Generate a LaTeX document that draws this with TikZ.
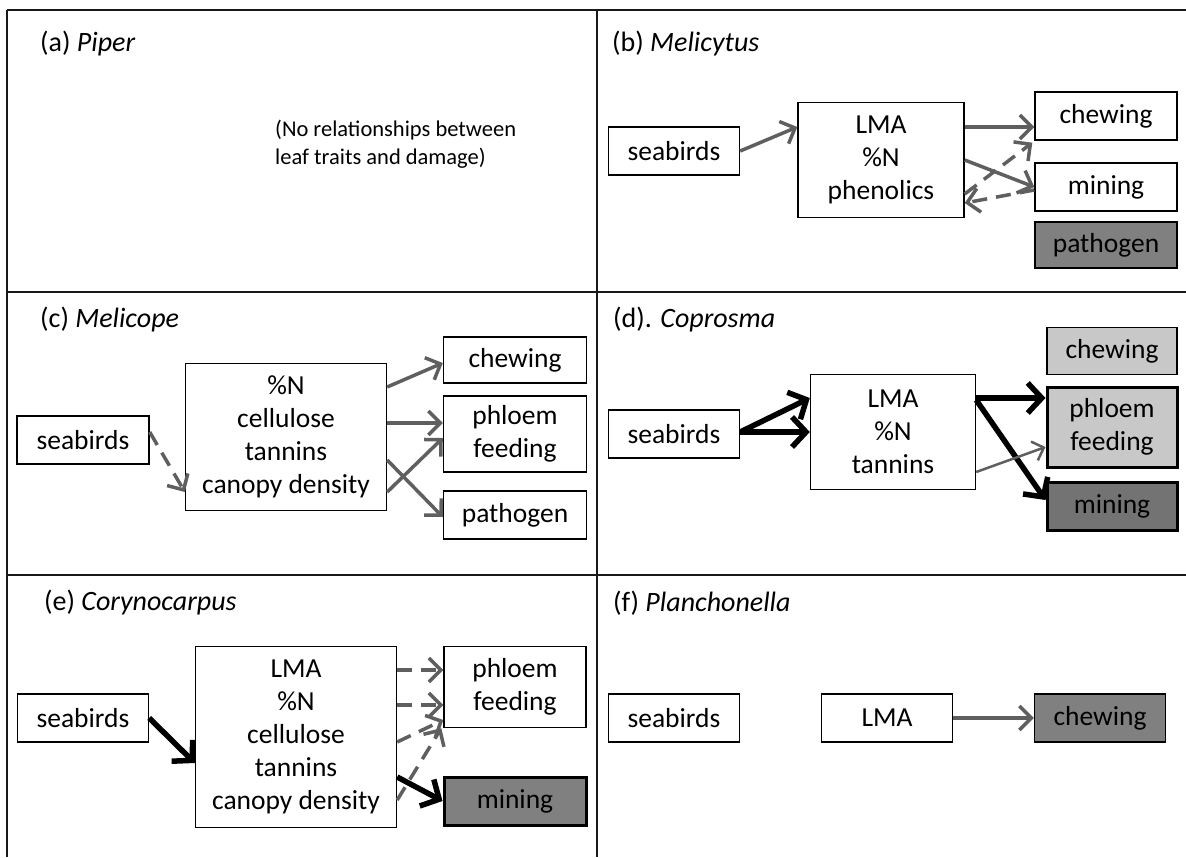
\documentclass[tikz,border=0pt]{standalone}
\usepackage{fontspec}
\setmainfont{Carlito}
\usetikzlibrary{arrows.meta}
\definecolor{arrgray}{RGB}{95,95,95}
\definecolor{darkfill}{RGB}{128,128,128}
\definecolor{lightfill}{RGB}{200,200,200}
\tikzset{
  box/.style={draw, line width=1.4pt, align=center, inner sep=0pt, font=\fontsize{27.5}{33}\selectfont},
  heavybox/.style={box, line width=3pt},
  ttl/.style={anchor=west, inner sep=0pt, font=\fontsize{28}{33}\selectfont},
  grid/.style={line width=2.5pt, black!90},
  garr/.style={draw=arrgray, line width=3.5pt, -{Straight Barb[length=12pt,width=24pt]}},
  darr/.style={garr, dash pattern=on 15pt off 9pt},
  barr/.style={draw=black, line width=5.5pt, -{Straight Barb[length=14pt,width=30pt]}},
  tarr/.style={draw=arrgray, line width=2.5pt, -{Straight Barb[length=10pt,width=20pt]}}
}
\begin{document}
\begin{tikzpicture}[x=1pt,y=-1pt]
  %%%%% grid %%%%%
  \useasboundingbox (0,0) rectangle (1186,857);
  \def\mid{597}
  \def\rowone{292}
  \def\rowtwo{575}
  \draw[grid] (7,10) -- (1186,10);
  \draw[grid] (7,10) -- (7,857);
  \draw[grid] (\mid,10) -- (\mid,857);
  \draw[grid] (7,\rowone) -- (1186,\rowone);
  \draw[grid] (7,\rowtwo) -- (1186,\rowtwo);

  %%%%% (a) %%%%%
  \node[ttl] (ta) at (40,44) {(a) \textit{Piper}};
  \node[ttl, align=left, font=\fontsize{22.5}{28}\selectfont] (anote) at (275,144) {(No relationships between\\leaf traits and damage)};

  %%%%% (b) %%%%%
  \node[ttl] (tb) at (612,44) {(b) \textit{Melicytus}};
  \node[box, minimum width=131, minimum height=48] (bsea) at (674,151) {seabirds};
  \node[box, minimum width=166, minimum height=115] (blma) at (881,160) {LMA\\\%N\\phenolics};
  \node[box, minimum width=142, minimum height=48] (bchew) at (1106,116) {chewing};
  \node[box, minimum width=142, minimum height=48] (bmin) at (1106,187) {mining};
  \node[box, fill=darkfill, minimum width=142, minimum height=46] (bpath) at (1106,245) {pathogen};
  \draw[garr] (bsea.east) -- ([yshift=33]blma.west);
  \draw[garr] ([yshift=33]blma.east) -- ([yshift=-11]bchew.west);
  \draw[garr] (blma.east) -- (bmin.west);
  \draw[darr] ([yshift=-3]bmin.west) -- ([yshift=-43]blma.east);
  \draw[darr] ([yshift=-34]blma.east) -- ([xshift=-2,yshift=-2]bchew.south west);

  %%%%% (c) %%%%%
  \node[ttl] (tc) at (40,320) {(c) \textit{Melicope}};
  \node[box, minimum width=132, minimum height=48] (csea) at (83,440) {seabirds};
  \node[box, minimum width=201, minimum height=147] (cmid) at (286,437) {\%N\\cellulose\\tannins\\canopy density};
  \node[box, minimum width=143, minimum height=46] (cchew) at (515,360) {chewing};
  \node[box, minimum width=143, minimum height=76] (cphl) at (515,434) {phloem\\feeding};
  \node[box, minimum width=143, minimum height=48] (cpath) at (515,515) {pathogen};
  \draw[darr] ([yshift=8]csea.east) -- ([yshift=-55]cmid.west);
  \draw[garr] ([yshift=50]cmid.east) -- ([yshift=-3]cchew.west);
  \draw[garr] ([yshift=14]cmid.east) -- ([yshift=11]cphl.west);
  \draw[garr] ([yshift=-23]cmid.east) -- ([yshift=-2]cpath.west);
  \draw[garr] ([yshift=-55]cmid.east) -- ([yshift=-4]cphl.west);

  %%%%% (d) %%%%%
  \node[ttl] (td) at (613,320) {(d). \textit{Coprosma}};
  \node[box, minimum width=131, minimum height=48] (dsea) at (674,434) {seabirds};
  \node[box, minimum width=165, minimum height=115] (dmid) at (893,432) {LMA\\\%N\\tannins};
  \node[box, fill=lightfill, minimum width=130, minimum height=47] (dchew) at (1112,351) {chewing};
  \node[heavybox, fill=lightfill, minimum width=130, minimum height=80] (dphl) at (1112,427) {phloem\\feeding};
  \node[heavybox, fill=darkfill!90!black, minimum width=130, minimum height=48] (dmin) at (1112,506) {mining};
  \draw[barr] ([yshift=2]dsea.east) -- ([yshift=34]dmid.west);
  \draw[barr] ([yshift=2]dsea.east) -- (dmid.west);
  \draw[barr] ([yshift=34]dmid.east) -- ([yshift=29]dphl.west);
  \draw[barr] ([yshift=32]dmid.east) -- ([yshift=6]dmin.west);
  \draw[tarr] ([yshift=-40]dmid.east) -- ([yshift=-20]dphl.west);

  %%%%% (e) %%%%%
  \node[ttl] (te) at (44,603) {(e) \textit{Corynocarpus}};
  \node[box, minimum width=131, minimum height=48] (esea) at (83,718) {seabirds};
  \node[box, minimum width=201, minimum height=181] (emid) at (296,737) {LMA\\\%N\\cellulose\\tannins\\canopy density};
  \node[box, minimum width=142, minimum height=81] (ephl) at (515,687) {phloem\\feeding};
  \node[heavybox, fill=darkfill, minimum width=142, minimum height=48] (emin) at (515,801) {mining};
  \draw[barr] (esea.east) -- ([yshift=-26]emid.west);
  \draw[darr] ([yshift=67]emid.east) -- ([yshift=17]ephl.west);
  \draw[darr] ([yshift=32]emid.east) -- ([yshift=-18]ephl.west);
  \draw[darr] ([yshift=-5]emid.east) -- ([yshift=-33]ephl.west);
  \draw[darr] ([yshift=-63]emid.east) -- ([xshift=-2]ephl.south west);
  \draw[barr] ([yshift=-40]emid.east) -- (emin.west);

  %%%%% (f) %%%%%
  \node[ttl] (tf) at (613,603) {(f) \textit{Planchonella}};
  \node[box, minimum width=131, minimum height=48] (fsea) at (674,718) {seabirds};
  \node[box, minimum width=131, minimum height=48] (flma) at (887,718) {LMA};
  \node[box, fill=darkfill, minimum width=131, minimum height=48] (fchew) at (1100,718) {chewing};
  \draw[garr] (flma.east) -- (fchew.west);
\end{tikzpicture}
\end{document}
